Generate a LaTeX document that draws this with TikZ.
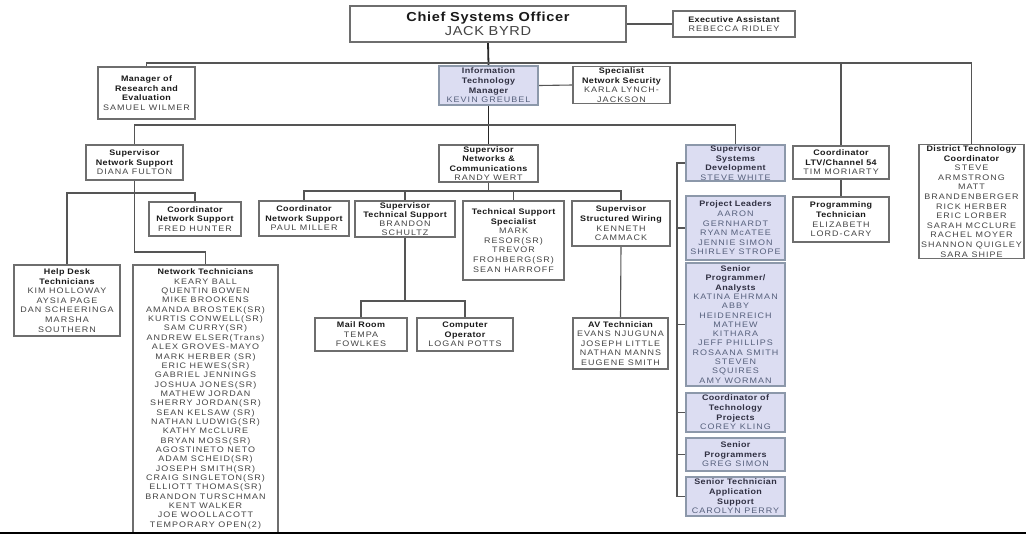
\documentclass[tikz,border=0pt]{standalone}
\usepackage{fontspec}
\usetikzlibrary{backgrounds}
\setmainfont{Liberation Sans}[FakeStretch=1.12, LetterSpace=5]
\newfontfamily\nmfont{Liberation Sans}[FakeStretch=1.12, LetterSpace=13]
\definecolor{boxgray}{HTML}{6E6E6E}
\definecolor{tc}{HTML}{1A1A1A}
\definecolor{nmc}{HTML}{444444}
\definecolor{lavfill}{HTML}{DCDDF2}
\definecolor{lavline}{HTML}{8C98AA}
\definecolor{lavtc}{HTML}{303042}
\definecolor{lavnm}{HTML}{56607C}
\definecolor{conncol}{HTML}{555555}
\newcommand\boxtitle[1]{{\rmfamily\bfseries\color{tc}#1}}
\newcommand\lavtitle[1]{{\rmfamily\bfseries\color{lavtc}#1}}
\begin{document}
\begin{tikzpicture}[x=1pt,y=-1pt,
  box/.style={draw=boxgray, line width=1.1pt, fill=white, align=center, inner sep=1pt,
    font=\nmfont\fontsize{8}{9.6}\selectfont, text=nmc},
  lavbox/.style={box, draw=lavline, line width=2.2pt, fill=lavfill, text=lavnm},
  conn/.style={draw=conncol, line width=1.1pt},
  darkconn/.style={draw=black!85, line width=1.8pt}]
\useasboundingbox (0,0) rectangle (1026,536);

% top level
\node[box, minimum width=276pt, minimum height=36pt, font=\fontsize{13}{14.5}\selectfont] (chief) at (488,24)
  {\textbf{\color{tc}Chief Systems Officer}\\JACK BYRD};
\node[box, minimum width=122pt, minimum height=26pt] (ea) at (734,24)
  {\boxtitle{Executive Assistant}\\REBECCA RIDLEY};
\node[lavbox, minimum width=99pt, minimum height=39pt] (itm) at (488.5,85.5)
  {\lavtitle{Information}\\\lavtitle{Technology}\\\lavtitle{Manager}\\KEVIN GREUBEL};
\node[box, minimum width=97pt, minimum height=36pt] (spec) at (621.5,85)
  {\boxtitle{Specialist}\\\boxtitle{Network Security}\\KARLA LYNCH-\\JACKSON};
\node[box, minimum width=97pt, minimum height=52pt] (mre) at (146.5,93)
  {\boxtitle{Manager of}\\\boxtitle{Research and}\\\boxtitle{Evaluation}\\SAMUEL WILMER};

% second level
\node[box, minimum width=97pt, minimum height=35pt] (sns) at (134.5,162.5)
  {\boxtitle{Supervisor}\\\boxtitle{Network Support}\\DIANA FULTON};
\node[box, minimum width=99pt, minimum height=37pt] (snc) at (488.5,163.5)
  {\boxtitle{Supervisor}\\\boxtitle{Networks \&}\\\boxtitle{Communications}\\RANDY WERT};
\node[lavbox, minimum width=99pt, minimum height=36pt] (ssd) at (735.5,163)
  {\lavtitle{Supervisor}\\\lavtitle{Systems}\\\lavtitle{Development}\\STEVE WHITE};
\node[box, minimum width=96pt, minimum height=33pt] (ltv) at (841,162.5)
  {\boxtitle{Coordinator}\\\boxtitle{LTV/Channel 54}\\TIM MORIARTY};
\node[box, minimum width=105pt, minimum height=113pt] (dtc) at (971.5,201.5)
  {\boxtitle{District Technology}\\\boxtitle{Coordinator}\\STEVE\\ARMSTRONG\\MATT\\BRANDENBERGER\\RICK HERBER\\ERIC LORBER\\SARAH MCCLURE\\RACHEL MOYER\\SHANNON QUIGLEY\\SARA SHIPE};
\node[box, minimum width=96pt, minimum height=45pt] (ptech) at (841,219.5)
  {\boxtitle{Programming}\\\boxtitle{Technician}\\ELIZABETH\\LORD-CARY};

% third level
\node[box, minimum width=92pt, minimum height=34pt] (fred) at (195,219)
  {\boxtitle{Coordinator}\\\boxtitle{Network Support}\\FRED HUNTER};
\node[box, minimum width=90pt, minimum height=35pt] (paul) at (304,218.5)
  {\boxtitle{Coordinator}\\\boxtitle{Network Support}\\PAUL MILLER};
\node[box, minimum width=100pt, minimum height=36pt, font=\nmfont\fontsize{8}{9}\selectfont] (sts) at (405,219)
  {\boxtitle{Supervisor}\\\boxtitle{Technical Support}\\BRANDON\\SCHULTZ};
\node[box, minimum width=101pt, minimum height=79pt] (tss) at (513.5,240.5)
  {\boxtitle{Technical Support}\\\boxtitle{Specialist}\\MARK\\RESOR(SR)\\TREVOR\\FROHBERG(SR)\\SEAN HARROFF};
\node[box, minimum width=98pt, minimum height=45pt] (ssw) at (621,223.5)
  {\boxtitle{Supervisor}\\\boxtitle{Structured Wiring}\\KENNETH\\CAMMACK};
\node[box, minimum width=92pt, minimum height=33pt] (mail) at (361,334.5)
  {\boxtitle{Mail Room}\\TEMPA\\FOWLKES};
\node[box, minimum width=96pt, minimum height=33pt] (cop) at (465,334.5)
  {\boxtitle{Computer}\\\boxtitle{Operator}\\LOGAN POTTS};
\node[box, minimum width=95pt, minimum height=51pt] (av) at (620.5,343.5)
  {\boxtitle{AV Technician}\\EVANS NJUGUNA\\JOSEPH LITTLE\\NATHAN MANNS\\EUGENE SMITH};
\node[box, minimum width=106pt, minimum height=71pt] (help) at (67,300.5)
  {\boxtitle{Help Desk}\\\boxtitle{Technicians}\\KIM HOLLOWAY\\AYSIA PAGE\\DAN SCHEERINGA\\MARSHA\\SOUTHERN};
\node[box, minimum width=145pt, minimum height=268pt, font=\nmfont\fontsize{8}{9.35}\selectfont] (nt) at (205.5,399)
  {\boxtitle{Network Technicians}\\KEARY BALL\\QUENTIN BOWEN\\MIKE BROOKENS\\AMANDA BROSTEK(SR)\\KURTIS CONWELL(SR)\\SAM CURRY(SR)\\ANDREW ELSER(Trans)\\ALEX GROVES-MAYO\\MARK HERBER (SR)\\ERIC HEWES(SR)\\GABRIEL JENNINGS\\JOSHUA JONES(SR)\\MATHEW JORDAN\\SHERRY JORDAN(SR)\\SEAN KELSAW (SR)\\NATHAN LUDWIG(SR)\\KATHY McCLURE\\BRYAN MOSS(SR)\\AGOSTINETO NETO\\ADAM SCHEID(SR)\\JOSEPH SMITH(SR)\\CRAIG SINGLETON(SR)\\ELLIOTT THOMAS(SR)\\BRANDON TURSCHMAN\\KENT WALKER\\JOE WOOLLACOTT\\TEMPORARY OPEN(2)};

% systems development column
\node[lavbox, minimum width=99pt, minimum height=64pt] (pl) at (735.5,228)
  {\lavtitle{Project Leaders}\\AARON\\GERNHARDT\\RYAN McATEE\\JENNIE SIMON\\SHIRLEY STROPE};
\node[lavbox, minimum width=99pt, minimum height=123pt, font=\nmfont\fontsize{8}{9.3}\selectfont] (spa) at (735.5,324.5)
  {\lavtitle{Senior}\\\lavtitle{Programmer/}\\\lavtitle{Analysts}\\KATINA EHRMAN\\ABBY\\HEIDENREICH\\MATHEW\\KITHARA\\JEFF PHILLIPS\\ROSAANA SMITH\\STEVEN\\SQUIRES\\AMY WORMAN};
\node[lavbox, minimum width=99pt, minimum height=39pt] (ctp) at (735.5,412.5)
  {\lavtitle{Coordinator of}\\\lavtitle{Technology}\\\lavtitle{Projects}\\COREY KLING};
\node[lavbox, minimum width=99pt, minimum height=33pt] (sp) at (735.5,454.5)
  {\lavtitle{Senior}\\\lavtitle{Programmers}\\GREG SIMON};
\node[lavbox, minimum width=99pt, minimum height=39pt] (sta) at (735.5,496.5)
  {\lavtitle{Senior Technician}\\\lavtitle{Application}\\\lavtitle{Support}\\CAROLYN PERRY};

% bus coordinates
\coordinate (b1) at (0,63);
\coordinate (b2) at (0,125);
\coordinate (b3) at (0,191);
\coordinate (b4) at (0,193);
\coordinate (b5) at (0,252);
\coordinate (b6) at (0,301);
\coordinate (tr) at (677,0);
\coordinate (bl) at (0,533);
\coordinate (br) at (1026,533);

% connectors
\begin{scope}[on background layer]
\draw[darkconn] (chief.south) -- (itm.north);
\draw[conn] (chief.east) -- (ea.west);
\draw[conn] (mre.north) |- (dtc.north |- b1) -- (dtc.north);
\draw[conn] (ltv.north) -- (ltv.north |- b1);
\draw[conn] (itm.east) -- (spec.west);
\draw[darkconn, line width=1.4pt] (itm.south) -- (snc.north);
\draw[conn] (sns.north) |- (ssd.north |- b2) -- (ssd.north);
\draw[conn] (ltv.south) -- (ptech.north);
\draw[conn] (help.north) |- (fred.north |- b4) -- (fred.north);
\draw[conn] (sns.south) |- (nt.north |- b5) -- (nt.north);
\draw[conn] (snc.south) -- (snc.south |- b3);
\draw[conn] (paul.north) |- (ssw.north |- b3) -- (ssw.north);
\draw[conn] (sts.north) -- (sts.north |- b3);
\draw[conn] (tss.north) -- (tss.north |- b3);
\draw[conn] (sts.south) -- (sts.south |- b6);
\draw[conn] (mail.north) |- (cop.north |- b6) -- (cop.north);
\draw[conn] (ssw.south) -- (av.north);
\draw[conn] (ssd.west) -- (ssd.west -| tr) |- (sta.west);
\draw[conn] (pl.west) -- (pl.west -| tr);
\draw[conn] (spa.west) -- (spa.west -| tr);
\draw[conn] (ctp.west) -- (ctp.west -| tr);
\draw[conn] (sp.west) -- (sp.west -| tr);
\end{scope}
\draw[line width=2.4pt, black] (bl) -- (br);
\end{tikzpicture}
\end{document}
